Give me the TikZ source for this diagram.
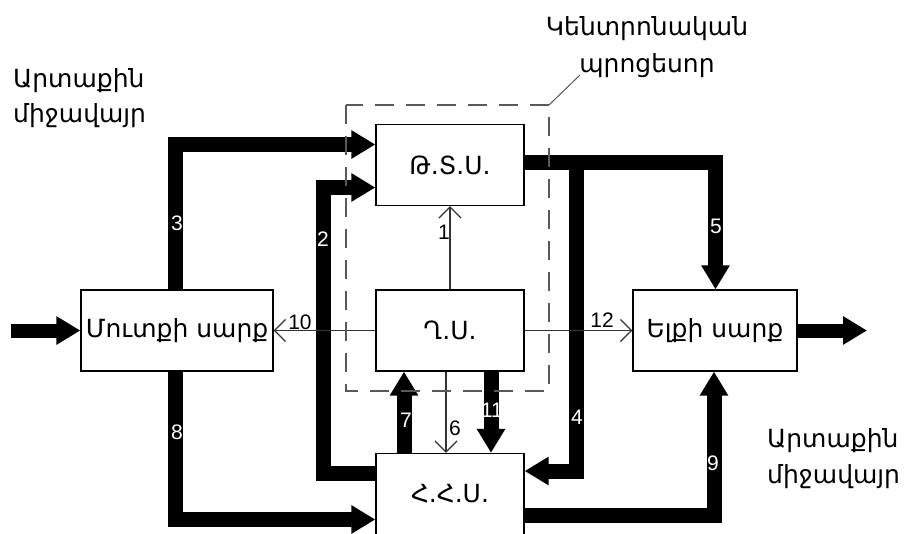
\documentclass[tikz,border=0pt]{standalone}
\usepackage{fontspec}
\setmainfont{DejaVu Sans}
\newfontfamily\numfont{Liberation Sans}
\usetikzlibrary{arrows.meta}
\begin{document}
\begin{tikzpicture}[x=1pt,y=-1pt,
  box/.style={draw, line width=1.3pt, minimum height=81pt, inner sep=0pt,
    font=\fontsize{25}{30}\selectfont},
  lbl/.style={inner sep=0pt, font=\fontsize{25}{30}\selectfont},
  thickarr/.style={line width=15pt, line join=miter, -{Triangle[length=24pt,width=27pt]}},
  thinarr/.style={line width=1.1pt, draw=black!80, -{Straight Barb[length=11pt,width=22pt,line width=1.3pt]}},
  numw/.style={inner sep=0pt, text=white, font=\numfont\fontsize{21}{23}\selectfont},
  numb/.style={inner sep=0pt, text=black, font=\numfont\fontsize{21}{23}\selectfont},
  cpubox/.style={draw=black!65, line width=1.1pt, dash pattern=on 19pt off 12pt}
]
\useasboundingbox (0,0) rectangle (905,533);
% boxes
\node[box, minimum width=148pt] (tsu) at (450,165) {Թ.Տ.Ս.};
\node[box, minimum width=148pt] (gs)  at (450,330.5) {Ղ.Ս.};
\node[box, minimum width=148pt] (hhs) at (450,494) {Հ.Հ.Ս.};
\node[box, minimum width=192pt] (in)  at (177,330.5) {Մուտքի սարք};
\node[box, minimum width=164pt] (out) at (715,330.5) {Ելքի սարք};
% coordinates for bends
\coordinate (c3) at (175.5,144.5);
\coordinate (c2a) at (323,473);
\coordinate (c2b) at (323,187.5);
\coordinate (c8) at (175.5,519.5);
\coordinate (c5) at (715.5,162.5);
\coordinate (c4a) at (576.5,162.5);
\coordinate (c4b) at (576.5,471);
\coordinate (c9) at (714,515.5);
\coordinate (inS) at (11,330.5);
\coordinate (outE) at (867,330.5);
% thick connectors
\draw[thickarr] (in.north -| c3) -- (c3) -- (tsu.west |- c3);
\draw[thickarr] (hhs.west |- c2a) -- (c2a) -- (c2b) -- (tsu.west |- c2b);
\draw[thickarr] (in.south -| c8) -- (c8) -- (hhs.west |- c8);
\draw[thickarr] ([xshift=-46pt]hhs.north) -- ([xshift=-46pt]gs.south);
\draw[thickarr] ([xshift=41pt]gs.south) -- ([xshift=41pt]hhs.north);
\draw[thickarr] (tsu.east |- c5) -- (c5) -- (out.north -| c5);
\draw[thickarr] (c4a) -- (c4b) -- (hhs.east |- c4b);
\draw[thickarr] (hhs.east |- c9) -- (c9) -- (out.south -| c9);
\draw[thickarr, line width=14pt] (inS) -- (in.west);
\draw[thickarr, line width=14pt] (out.east) -- (outE);
% thin connectors
\draw[thinarr] (gs.north) -- (tsu.south);
\draw[thinarr] ([xshift=-4pt]gs.south) -- ([xshift=-4pt]hhs.north);
\draw[thinarr] (gs.west) -- (in.east);
\draw[thinarr] (gs.east) -- (out.west);
% central processor frame
\draw[cpubox] (346,105) rectangle (549,391);
\coordinate (cpc) at (549,105);
\coordinate (cpl) at (580,75);
\draw[draw=black!65, line width=1pt] (cpc) -- (cpl);
% numbers
\node[numw] (n3) at (177,223) {3};
\node[numw] (n2) at (323,239) {2};
\node[numw] (n8) at (177,432) {8};
\node[numw] (n7) at (406,420) {7};
\node[numw] (n11) at (492,410) {11};
\node[numw] (n4) at (577,417) {4};
\node[numw] (n5) at (716,226) {5};
\node[numw] (n9) at (713,463) {9};
\node[numb] (n1) at (444,232) {1};
\node[numb] (n6) at (455,428) {6};
\node[numb] (n10) at (300,322) {10};
\node[numb] (n12) at (602,320) {12};
% labels
\node[lbl, anchor=base] (cp1) at (647,35) {Կենտրոնական};
\node[lbl, anchor=base] (cp2) at (647,72) {պրոցեսոր};
\node[lbl, anchor=base west] (env1) at (13,87) {Արտաքին};
\node[lbl, anchor=base west] (env2) at (13,122) {միջավայր};
\node[lbl, anchor=base west] (env3) at (767,447) {Արտաքին};
\node[lbl, anchor=base west] (env4) at (767,483) {միջավայր};
\end{tikzpicture}
\end{document}
